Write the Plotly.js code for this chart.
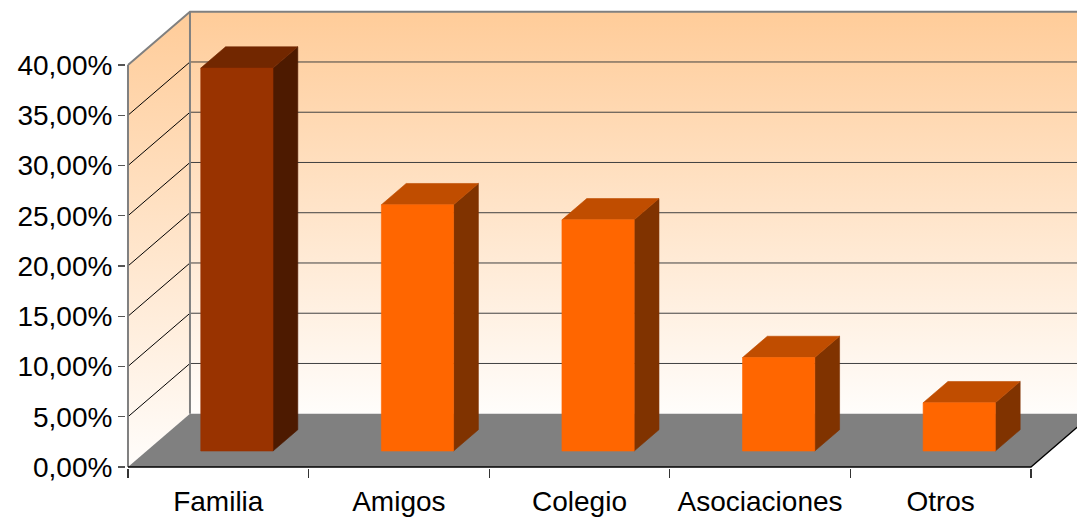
<!DOCTYPE html>
<html><head><meta charset="utf-8">
<script src="https://cdn.plot.ly/plotly-3.0.1.min.js"></script>
<style>html,body{margin:0;padding:0;background:#fff;}#chart{width:1077px;height:518px;}</style>
</head><body><div id="chart"></div>
<script>
// ---- data ----
const categories = ['Familia', 'Amigos', 'Colegio', 'Asociaciones', 'Otros'];
const values = [38.1, 24.5, 23.0, 9.3, 4.8];
const yTickVals = [0, 5, 10, 15, 20, 25, 30, 35, 40];
const yTickText = ['0,00%', '5,00%', '10,00%', '15,00%', '20,00%', '25,00%', '30,00%', '35,00%', '40,00%'];

// ---- style ----
const frontColors = ['#993300', '#ff6600', '#ff6600', '#ff6600', '#ff6600'];
const topColors   = ['#722700', '#c04d00', '#c04d00', '#c04d00', '#c04d00'];
const sideColors  = ['#4d1a00', '#803300', '#803300', '#803300', '#803300'];

const DX = 62 / 180.6;   // depth shift in category units
const DY = 5.3;          // depth shift in value units
const YMAX = 40;
const X0 = -0.5, X1 = categories.length - 0.5, XR = 7;
const D1 = 0.3, D2 = 0.7, W = 0.4;
const grad = {type: 'vertical', colorscale: [[0, '#fffdfb'], [1, '#ffcc99']]};

function poly(x, y, color, extra) {
  return Object.assign({type: 'scatter', mode: 'lines', x: x, y: y, fill: 'toself',
    fillcolor: color, line: {width: 0.6, color: color}, hoverinfo: 'skip', showlegend: false}, extra || {});
}
function lines(x, y, color, width) {
  return {type: 'scatter', mode: 'lines', x: x, y: y, line: {color: color, width: width},
    hoverinfo: 'skip', showlegend: false};
}

const traces = [];
// back wall
traces.push(poly([X0 + DX, XR, XR, X0 + DX, X0 + DX], [DY, DY, DY + YMAX, DY + YMAX, DY], null,
  {fillgradient: grad, line: {width: 0}}));
// left wall
traces.push(poly([X0, X0 + DX, X0 + DX, X0, X0], [0, DY, DY + YMAX, YMAX, 0], null,
  {fillgradient: grad, line: {width: 0}}));
// gridlines
const gbx = [], gby = [], glx = [], gly = [];
yTickVals.forEach(function (v) {
  if (v <= 0 || v >= YMAX) return;
  gbx.push(X0 + DX, XR, null); gby.push(DY + v, DY + v, null);
  glx.push(X0, X0 + DX, null); gly.push(v, DY + v, null);
});
traces.push(lines(gbx, gby, '#404040', 1));
traces.push(lines(glx, gly, '#000000', 1));
// floor
traces.push(poly([X0, X1, X1 + DX, X0 + DX, X0], [0, 0, DY, DY, 0], '#808080', {line: {width: 0}}));
// bars
categories.forEach(function (c, i) {
  const v = values[i];
  const xl1 = i - W / 2 + D1 * DX, xr1 = i + W / 2 + D1 * DX;
  const xl2 = i - W / 2 + D2 * DX, xr2 = i + W / 2 + D2 * DX;
  const yb1 = D1 * DY, yb2 = D2 * DY, yt1 = yb1 + v, yt2 = yb2 + v;
  traces.push(poly([xr1, xr2, xr2, xr1, xr1], [yb1, yb2, yt2, yt1, yb1], sideColors[i]));
  traces.push(poly([xl1, xr1, xr2, xl2, xl1], [yt1, yt1, yt2, yt2, yt1], topColors[i]));
  traces.push(poly([xl1, xr1, xr1, xl1, xl1], [yb1, yb1, yt1, yt1, yb1], frontColors[i]));
});
// wall borders
traces.push(lines([X0, X0, null, X0, X0 + DX, XR, null, X0 + DX, X0 + DX],
                  [0, YMAX, null, YMAX, DY + YMAX, DY + YMAX, null, DY, DY + YMAX], '#808080', 2));
// floor front edge
traces.push(lines([X0, X1, X1 + DX], [0, 0, DY], '#000000', 1.3));

const font = {family: '"Liberation Sans", Arial, sans-serif', size: 28, color: '#000000'};
const layout = {
  width: 1077, height: 518,
  margin: {l: 126, r: 0, t: 8, b: 50},
  paper_bgcolor: '#ffffff', plot_bgcolor: '#ffffff',
  showlegend: false,
  font: font,
  xaxis: {
    range: [-0.511, 4.755], showgrid: false, zeroline: false, showline: false,
    tickmode: 'array', tickvals: categories.map(function (c, i) { return i; }), ticktext: categories,
    ticks: '', tickfont: font, automargin: false, fixedrange: true,
    minor: {tickmode: 'array', tickvals: categories.map(function (c, i) { return i - 0.5; }).concat([X1]),
            ticks: 'outside', ticklen: 9, tickwidth: 1.3, tickcolor: '#333333', showgrid: false},
    ticklabelstandoff: 14
  },
  yaxis: {
    range: [-0.0995, 45.67], showgrid: false, zeroline: false, showline: false,
    tickmode: 'array', tickvals: yTickVals, ticktext: yTickText,
    ticks: 'outside', ticklen: 7, tickwidth: 1.3, tickcolor: '#555555',
    tickfont: font, automargin: false, fixedrange: true
  }
};
Plotly.newPlot('chart', traces, layout, {displayModeBar: false, staticPlot: true});
</script>
</body></html>
